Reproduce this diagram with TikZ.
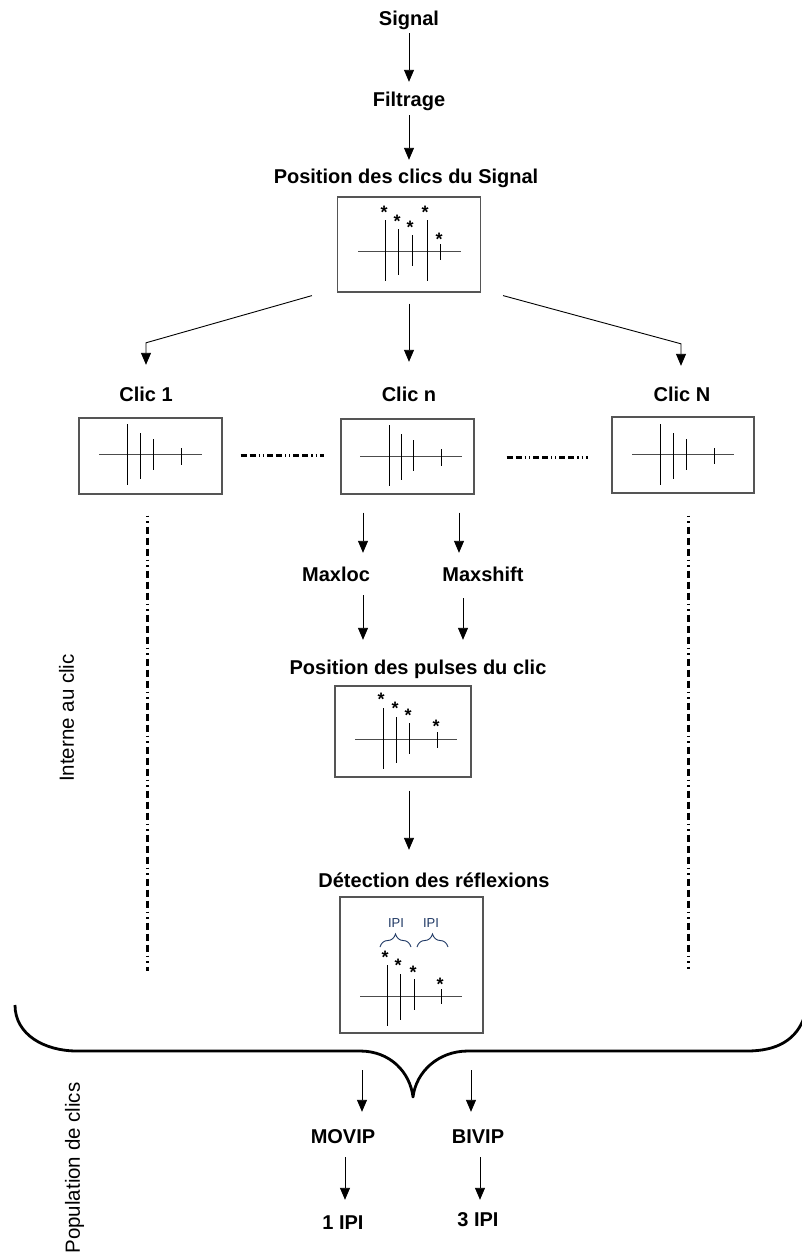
\documentclass[tikz,border=0pt]{standalone}
\usepackage{fontspec}
\setmainfont{Liberation Sans}
\usetikzlibrary{arrows.meta,calc,decorations.pathreplacing}
\definecolor{ipiblue}{RGB}{31,56,100}
\definecolor{boxgray}{RGB}{85,85,85}
\begin{document}
\begin{tikzpicture}[x=1pt,y=-1pt,
 lbl/.style={font=\fontsize{20}{24}\selectfont\bfseries, inner sep=0pt, text height=14pt, text depth=0pt, anchor=center},
 side/.style={font=\fontsize{20.5}{24}\selectfont, rotate=90, inner sep=0pt},
 panel/.style={draw=boxgray, line width=1.2pt, inner sep=0pt, rectangle},
 arr/.style={line width=0.9pt, -{Triangle[width=10pt,length=12pt]}},
 spike/.style={line width=1pt, black},
 axis/.style={line width=1pt, black!70},
 star/.style={font=\fontsize{18}{18}\selectfont\bfseries, inner sep=0pt, anchor=north},
 dashh/.style={line width=3pt, dash pattern=on 6pt off 3pt on 6pt off 3pt on 1.2pt off 3pt on 1.2pt off 3pt},
 dashv/.style={line width=3pt, dash pattern=on 1.5pt off 4pt on 1.5pt off 4pt on 7pt off 4pt on 7pt off 4pt on 7pt off 4pt},
 ipi/.style={font=\fontsize{13}{15}\selectfont, text=ipiblue, inner sep=0pt},
 ipibrace/.style={draw=ipiblue, line width=0.9pt, decorate, decoration={brace, amplitude=13pt}},
 bigbrace/.style={line width=2.8pt, line join=round},
 ]
\useasboundingbox (0,0) rectangle (802,1259);

% ---- text nodes
\node[lbl] (signal) at (409,18) {Signal};
\node[lbl] (filtrage) at (409,99) {Filtrage};
\node[lbl] (posclics) at (406,176) {Position des clics du Signal};
\node[lbl] (clic1) at (146,394) {Clic 1};
\node[lbl] (clicn) at (409,394) {Clic n};
\node[lbl] (clicN) at (682,394) {Clic N};
\node[lbl] (maxloc) at (336,574) {Maxloc};
\node[lbl] (maxshift) at (483,574) {Maxshift};
\node[lbl] (pospulses) at (418,667) {Position des pulses du clic};
\node[lbl] (detect) at (434,880) {Détection des réflexions};
\node[lbl] (movip) at (343,1136) {MOVIP};
\node[lbl] (bivip) at (478,1136) {BIVIP};
\node[lbl] (ipi1) at (343,1222) {1 IPI};
\node[lbl] (ipi3) at (478,1219) {3 IPI};
\node[side] (interne) at (66.5,718) {Interne au clic};
\node[side] (popu) at (74.5,1168) {Population de clics};

% ---- panels
\node[panel, minimum width=143pt, minimum height=95pt] (box0) at (409,244.5) {};
\node[panel, minimum width=143pt, minimum height=76pt] (box1) at (150.5,456) {};
\node[panel, minimum width=133pt, minimum height=75pt] (boxn) at (407.5,456.5) {};
\node[panel, minimum width=142pt, minimum height=76pt] (boxN) at (683,455) {};
\node[panel, minimum width=136pt, minimum height=91pt] (box3) at (403,731.5) {};
\node[panel, minimum width=143pt, minimum height=136pt] (box4) at (411.5,965) {};

% ---- panel contents
% box0
\draw[axis] (358,251) -- (461,251);
\foreach \x/\a/\b in {385/220/281, 398/229/275, 412/235/266, 427/220/281, 440/244/260}
  \draw[spike] (\x,\a) -- (\x,\b);
\foreach \x/\y [count=\i] in {384/206, 397/215, 410/221, 425/206, 439/233}
  \node[star] (s0-\i) at (\x,\y) {*};
% box1
\draw[axis] (99,454) -- (202,454);
\foreach \x/\a/\b in {127/424/485, 140/433/479, 153/439/470, 181/448/465}
  \draw[spike] (\x,\a) -- (\x,\b);
% boxn
\draw[axis] (360,456) -- (462,456);
\foreach \x/\a/\b in {389/425/486, 401/434/480, 413/440/471, 441/449/466}
  \draw[spike] (\x,\a) -- (\x,\b);
% boxN
\draw[axis] (632,454) -- (734,454);
\foreach \x/\a/\b in {660/424/485, 673/433/479, 686/439/470, 714/448/464}
  \draw[spike] (\x,\a) -- (\x,\b);
% box3
\draw[axis] (355,739) -- (457,739);
\foreach \x/\a/\b in {383/708/769, 396/717/763, 409/723/754, 437/732/748}
  \draw[spike] (\x,\a) -- (\x,\b);
\foreach \x/\y [count=\i] in {381/693, 395/702, 408/709, 436/720}
  \node[star] (s3-\i) at (\x,\y) {*};
% box4
\draw[axis] (360,996) -- (462,996);
\foreach \x/\a/\b in {387/965/1026, 400/974/1020, 414/979/1010, 441/989/1004}
  \draw[spike] (\x,\a) -- (\x,\b);
\foreach \x/\y [count=\i] in {385/951, 398/959, 413/966, 440/978}
  \node[star] (s4-\i) at (\x,\y) {*};
\node[ipi] (ipiA) at (396,923) {IPI};
\node[ipi] (ipiB) at (431,923) {IPI};
\draw[ipibrace] (380,947) -- (411,947);
\draw[ipibrace] (417,947) -- (448,947);

% ---- arrows
\draw[arr] ($(signal.south)+(0,8)$) -- ($(filtrage.north)+(0,-10)$);
\draw[arr] ($(filtrage.south)+(0,9)$) -- ($(posclics.north)+(3,-9)$);
\draw[arr] ($(box0.south west)+(-25,3)$) -- ($(clic1.north)+(0,-44)$) -- ($(clic1.north)+(0,-22)$);
\draw[arr] ($(box0.south)+(0,11)$) -- ($(clicn.north)+(0,-25)$);
\draw[arr] ($(box0.south east)+(22,3)$) -- ($(clicN.north)+(-1,-43)$) -- ($(clicN.north)+(-1,-21)$);
\draw[arr] ($(boxn.south)+(-44.5,18)$) -- ($(maxloc.north)+(27,-14)$);
\draw[arr] ($(boxn.south)+(51.5,18)$) -- ($(maxshift.north)+(-24,-14)$);
\draw[arr] ($(maxloc.south)+(27,14)$) -- ($(pospulses.north)+(-55,-20)$);
\draw[arr] ($(maxshift.south)+(-20,17)$) -- ($(pospulses.north)+(45,-20)$);
\draw[arr] ($(box3.south)+(6,13)$) -- ($(detect.north)+(-25,-23)$);

% ---- dashed separators
\draw[dashh] ($(box1.east)+(18,-1)$) -- ($(boxn.west)+(-16,-1.5)$);
\draw[dashh] ($(boxn.east)+(32,0.5)$) -- ($(boxN.west)+(-23,2)$);
\draw[dashv] ($(box1.south)+(-3.5,21)$) -- ++(0,455);
\draw[dashv] ($(boxN.south)+(5,22)$) -- ++(0,453);

% ---- big brace
\coordinate (bt) at (413,1097);
\draw[bigbrace] (15,1005) .. controls (15,1035) and (45,1051) .. (77,1051) -- (360,1051)
  .. controls (390,1051) and (410,1072) .. (bt)
  .. controls (416,1072) and (438,1051) .. (468,1051) -- (747,1051)
  .. controls (777,1051) and (797,1040) .. (805,1015);

\draw[arr] ($(bt)+(-51,-27)$) -- ($(movip.north)+(19,-17)$);
\draw[arr] ($(bt)+(58,-27)$) -- ($(bivip.north)+(-7,-17)$);
\draw[arr] ($(movip.south)+(2,14)$) -- ($(ipi1.north)+(2,-15)$);
\draw[arr] ($(bivip.south)+(2,14)$) -- ($(ipi3.north)+(2,-12)$);
\end{tikzpicture}
\end{document}
